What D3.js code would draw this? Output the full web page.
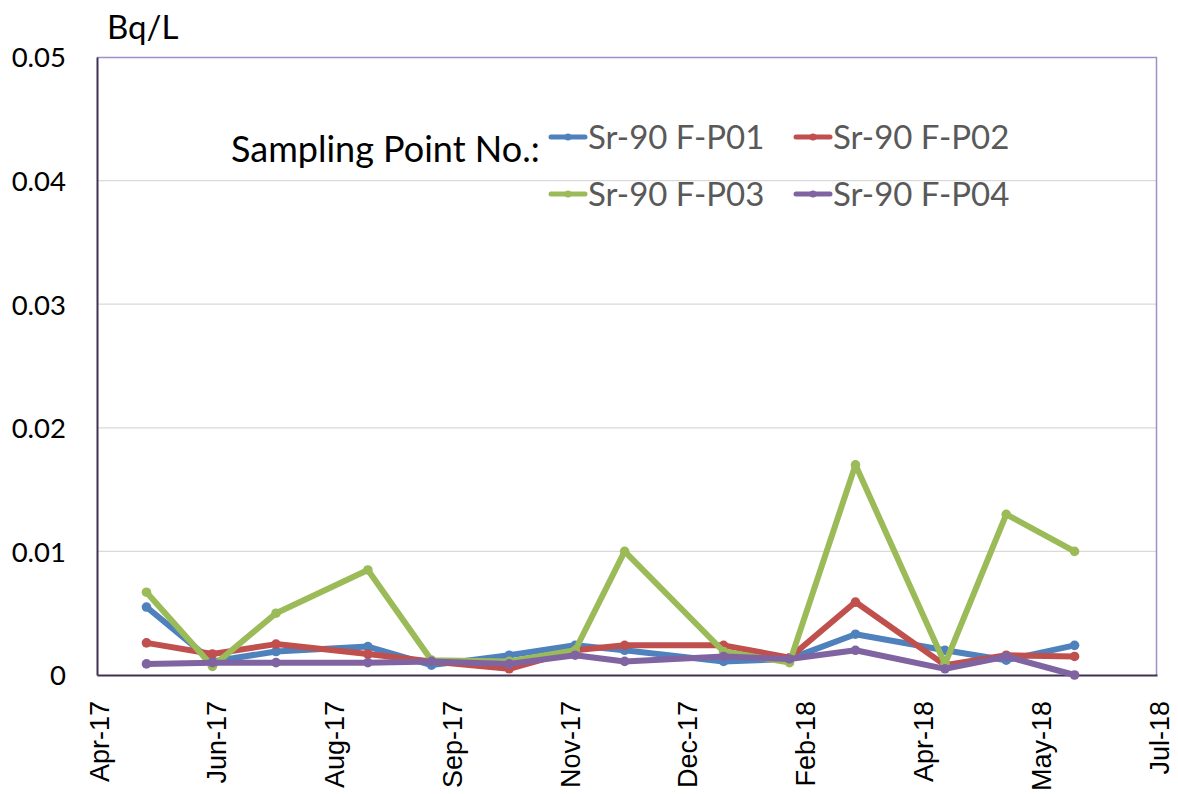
<!DOCTYPE html>
<html>
<head>
<meta charset="utf-8">
<script src="https://cdn.jsdelivr.net/npm/d3@7"></script>
<style>
  body { margin: 0; background: #fff; }
</style>
</head>
<body>
<div id="chart"></div>
<script>
// sampling dates (one per month-ish)
var sampleDates = ["2017-05-16", "2017-06-13", "2017-07-10", "2017-08-18", "2017-09-14",
  "2017-10-17", "2017-11-14", "2017-12-05", "2018-01-16", "2018-02-13",
  "2018-03-13", "2018-04-20", "2018-05-16", "2018-06-14"];

// Sr-90 values in Bq/L
var fp01 = [0.0055, 0.0011, 0.0019, 0.0023, 0.0008, 0.0016, 0.0024, 0.0020, 0.0011, 0.0013, 0.0033, 0.0020, 0.0012, 0.0024];
var fp02 = [0.0026, 0.0017, 0.0025, 0.0017, 0.0011, 0.0005, 0.0020, 0.0024, 0.0024, 0.0014, 0.0059, 0.0008, 0.0016, 0.0015];
var fp03 = [0.0067, 0.0007, 0.0050, 0.0085, 0.0012, 0.0011, 0.0020, 0.0100, 0.0019, 0.0010, 0.0170, 0.0009, 0.0130, 0.0100];
var fp04 = [0.0009, 0.0010, 0.0010, 0.0010, 0.0011, 0.0009, 0.0016, 0.0011, 0.0015, 0.0013, 0.0020, 0.0005, 0.0015, 0.0000];

var seriesNames = ["Sr-90 F-P01", "Sr-90 F-P02", "Sr-90 F-P03", "Sr-90 F-P04"];
var seriesColors = ["#4F81BD", "#C0504D", "#9BBB59", "#8064A2"];

// axis settings (date axis starts Apr 25 2017, ticks every 50 days)
var xStart = "2017-04-25";
var xStepDays = 50;
var xTickCount = 10;
var yTicks = [0, 0.01, 0.02, 0.03, 0.04, 0.05];

var svgWidth = 1178;
var svgHeight = 794;

var margin = {
  top: 57,
  bottom: 119,
  right: 21,
  left: 97
};

var width = svgWidth - margin.left - margin.right;
var height = svgHeight - margin.top - margin.bottom;

var textFont = "Lato, 'Open Sans', sans-serif";

var parseDate = d3.timeParse("%Y-%m-%d");
var x0 = parseDate(xStart);
var xTickValues = d3.range(xTickCount).map(i => d3.timeDay.offset(x0, i * xStepDays));

var svg = d3.select("#chart")
  .append("svg")
  .attr("width", svgWidth)
  .attr("height", svgHeight);

var chartGroup = svg.append("g")
  .attr("transform", `translate(${margin.left}, ${margin.top})`);

var xScale = d3.scaleTime()
  .domain([x0, xTickValues[xTickValues.length - 1]])
  .range([0, width]);

var yScale = d3.scaleLinear()
  .domain([0, 0.05])
  .range([height, 0]);

// gridlines
chartGroup.append("g")
  .selectAll("line")
  .data(yTicks.filter(d => d > 0 && d < 0.05))
  .enter()
  .append("line")
  .attr("x1", 0)
  .attr("x2", width)
  .attr("y1", d => yScale(d))
  .attr("y2", d => yScale(d))
  .attr("stroke", "#D9D9D9")
  .attr("stroke-width", 1.3);

// top and right border of the plot area
chartGroup.append("path")
  .attr("d", `M0,0.5H${width - 0.5}V${height}`)
  .attr("fill", "none")
  .attr("stroke", "#A08FC8")
  .attr("stroke-width", 1.5);

// y axis
var leftAxis = d3.axisLeft(yScale)
  .tickValues(yTicks)
  .tickSize(0)
  .tickPadding(31)
  .tickFormat(d => d === 0 ? "0" : d3.format(".2f")(d));

var yAxis = chartGroup.append("g")
  .classed("y-axis", true)
  .call(leftAxis);

yAxis.select(".domain")
  .attr("stroke", "#3F3151")
  .attr("stroke-width", 2);

yAxis.selectAll("text")
  .attr("font-family", textFont)
  .attr("font-size", "27.5px")
  .attr("fill", "#000")
  .attr("dy", "0.36em");

// x axis
var bottomAxis = d3.axisBottom(xScale)
  .tickValues(xTickValues)
  .tickSize(0)
  .tickFormat(d3.timeFormat("%b-%y"));

var xAxis = chartGroup.append("g")
  .classed("x-axis", true)
  .attr("transform", `translate(0, ${height})`)
  .call(bottomAxis);

xAxis.select(".domain")
  .attr("stroke", "#3F3151")
  .attr("stroke-width", 2);

xAxis.selectAll("text")
  .attr("font-family", "'Liberation Sans', Arial, sans-serif")
  .attr("font-size", "27px")
  .attr("fill", "#000")
  .attr("text-anchor", "end")
  .attr("transform", "translate(11, 26) rotate(-90)")
  .attr("x", 0)
  .attr("y", 0)
  .attr("dy", 0);

// unit label
svg.append("text")
  .attr("x", 107)
  .attr("y", 39)
  .attr("font-family", textFont)
  .attr("font-size", "33px")
  .attr("fill", "#000")
  .text("Bq/L");

// lines
var allSeries = [fp01, fp02, fp03, fp04].map(function(vals, i) {
  return {
    name: seriesNames[i],
    color: seriesColors[i],
    values: vals.map((v, j) => ({ date: parseDate(sampleDates[j]), value: v }))
  };
});

var line = d3.line()
  .x(d => xScale(d.date))
  .y(d => yScale(d.value));

var seriesGroup = chartGroup.selectAll(".series")
  .data(allSeries)
  .enter()
  .append("g")
  .attr("class", "series");

seriesGroup.append("path")
  .attr("d", d => line(d.values))
  .attr("fill", "none")
  .attr("stroke", d => d.color)
  .attr("stroke-width", 6)
  .attr("stroke-linejoin", "round")
  .attr("stroke-linecap", "round");

seriesGroup.selectAll("circle")
  .data(d => d.values.map(v => ({ v: v, color: d.color })))
  .enter()
  .append("circle")
  .attr("cx", d => xScale(d.v.date))
  .attr("cy", d => yScale(d.v.value))
  .attr("r", 4.8)
  .attr("fill", d => d.color);

// legend
svg.append("text")
  .attr("x", 231)
  .attr("y", 162)
  .attr("font-family", textFont)
  .attr("font-size", "36px")
  .attr("fill", "#000")
  .text("Sampling Point No.:");

var legendCols = [551, 796];
var legendRows = [137, 194];

var legendItems = svg.selectAll(".legend-item")
  .data(allSeries)
  .enter()
  .append("g")
  .attr("class", "legend-item")
  .attr("transform", (d, i) => `translate(${legendCols[i % 2]}, ${legendRows[Math.floor(i / 2)]})`);

legendItems.append("line")
  .attr("x1", 0)
  .attr("x2", 34)
  .attr("y1", 0)
  .attr("y2", 0)
  .attr("stroke", d => d.color)
  .attr("stroke-width", 5)
  .attr("stroke-linecap", "round");

legendItems.append("circle")
  .attr("cx", 17)
  .attr("cy", 0)
  .attr("r", 3.5)
  .attr("fill", d => d.color);

legendItems.append("text")
  .attr("x", 37)
  .attr("y", 12)
  .attr("font-family", textFont)
  .attr("font-size", "33px")
  .attr("fill", "#595959")
  .text(d => d.name);
</script>
</body>
</html>
